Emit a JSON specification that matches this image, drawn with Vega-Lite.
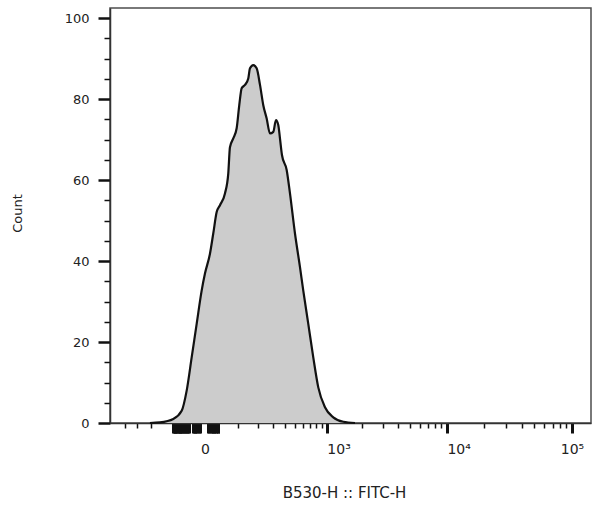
{
  "$schema": "https://vega.github.io/schema/vega-lite/v6.json",
  "width": 481,
  "height": 415,
  "autosize": {"type": "none"},
  "padding": {"left": 110, "top": 8, "right": 1, "bottom": 83},
  "background": "white",
  "config": {
    "view": {"stroke": "#4d4d4d", "strokeWidth": 1.5},
    "font": "DejaVu Sans",
    "axis": {
      "grid": false,
      "domainColor": "#333333",
      "domainWidth": 1.5,
      "tickColor": "#111111",
      "labelColor": "#222222",
      "titleColor": "#222222",
      "labelFont": "DejaVu Sans",
      "titleFont": "DejaVu Sans",
      "labelFontWeight": "normal",
      "titleFontWeight": "normal"
    }
  },
  "data": {
    "values": [
      {"fitc": -209, "count": 0},
      {"fitc": -154, "count": 0.15},
      {"fitc": -94.5, "count": 1.0},
      {"fitc": -63.9, "count": 3.0},
      {"fitc": -47.8, "count": 8.0},
      {"fitc": -33.1, "count": 16.2},
      {"fitc": -19.7, "count": 24.5},
      {"fitc": -7.5, "count": 32.7},
      {"fitc": 0, "count": 36.9},
      {"fitc": 11.5, "count": 41.8},
      {"fitc": 19.7, "count": 46.8},
      {"fitc": 28.7, "count": 52.1},
      {"fitc": 38.0, "count": 53.8},
      {"fitc": 53.1, "count": 56.7},
      {"fitc": 63.9, "count": 61.6},
      {"fitc": 69.7, "count": 68.1},
      {"fitc": 81.6, "count": 70.3},
      {"fitc": 94.5, "count": 72.8},
      {"fitc": 105.0, "count": 78.5},
      {"fitc": 115.1, "count": 82.7},
      {"fitc": 129.8, "count": 83.5},
      {"fitc": 145.4, "count": 85.1},
      {"fitc": 153.8, "count": 87.6},
      {"fitc": 170.8, "count": 88.4},
      {"fitc": 189.5, "count": 87.6},
      {"fitc": 209, "count": 83.5},
      {"fitc": 229.4, "count": 78.5},
      {"fitc": 251.8, "count": 75.2},
      {"fitc": 275.0, "count": 71.5},
      {"fitc": 299.6, "count": 71.9},
      {"fitc": 320.9, "count": 74.8},
      {"fitc": 339.9, "count": 73.6},
      {"fitc": 354.4, "count": 70.3},
      {"fitc": 372.0, "count": 66.2},
      {"fitc": 416.4, "count": 62.5},
      {"fitc": 449.9, "count": 56.7},
      {"fitc": 504.6, "count": 46.8},
      {"fitc": 564.6, "count": 38.5},
      {"fitc": 607.2, "count": 32.7},
      {"fitc": 677.0, "count": 24.5},
      {"fitc": 753.5, "count": 16.2},
      {"fitc": 837.3, "count": 8.8},
      {"fitc": 962.4, "count": 3.9},
      {"fitc": 1140, "count": 1.4},
      {"fitc": 1394, "count": 0.3},
      {"fitc": 1756, "count": 0}
    ]
  },
  "encoding": {
    "x": {
      "field": "fitc",
      "type": "quantitative",
      "title": "B530-H :: FITC-H",
      "scale": {"type": "symlog", "constant": 120, "domain": [-564, 141700], "nice": false, "zero": false},
      "axis": {
        "values": [-400, -300, -200, -95, -92, -89, -86, -83, -80, -77, -74, -71, -68, -65, -62, -59, -56, -53, -50, -47, -44, -41, -30, -27, -24, -21, -18, -15, -12, 0, 7, 10, 13, 16, 19, 22, 25, 28, 31, 33, 100, 200, 300, 400, 500, 600, 700, 800, 900, 1000, 2000, 3000, 4000, 5000, 6000, 7000, 8000, 9000, 10000, 20000, 30000, 40000, 50000, 60000, 70000, 80000, 90000, 100000],
        "labelExpr": "datum.value==0?'0':datum.value==1000?'10³':datum.value==10000?'10⁴':datum.value==100000?'10⁵':''",
        "labelOverlap": false,
        "labelFlush": false,
        "labelBound": false,
        "labelFontSize": 14,
        "labelPadding": 9,
        "labelAlign": {"condition": {"test": "datum.value==0||datum.value==100000", "value": "center"}, "value": "left"},
        "tickSize": {"condition": {"test": "datum.value==1000||datum.value==10000||datum.value==100000||abs(datum.value)<100", "value": 10}, "value": 5},
        "tickWidth": {"condition": {"test": "datum.value==1000||datum.value==10000||datum.value==100000||abs(datum.value)<100", "value": 3}, "value": 1.5},
        "tickOpacity": {"condition": {"test": "datum.value==0", "value": 0}, "value": 1},
        "titleFontSize": 15,
        "titleX": 234,
        "titleY": 69,
        "titleBaseline": "middle",
        "titleAnchor": null
      }
    },
    "y": {
      "field": "count",
      "type": "quantitative",
      "title": "Count",
      "scale": {"domain": [0, 102.5], "nice": false},
      "axis": {
        "values": [0, 5, 10, 15, 20, 25, 30, 35, 40, 45, 50, 55, 60, 65, 70, 75, 80, 85, 90, 95, 100],
        "labelExpr": "datum.value % 20 == 0 ? datum.label : ''",
        "labelOverlap": false,
        "labelFlush": false,
        "labelBound": false,
        "labelFontSize": 13,
        "labelPadding": 9,
        "tickSize": 12,
        "tickDash": {"condition": {"test": "datum.value % 20 != 0", "value": [6, 20]}, "value": [20, 0]},
        "tickWidth": {"condition": {"test": "datum.value % 20 == 0", "value": 2.5}, "value": 1.5},
        "titleFontSize": 13,
        "titleAngle": -90,
        "titleX": -93,
        "titleY": 205,
        "titleAlign": "center",
        "titleBaseline": "middle"
      }
    }
  },
  "layer": [
    {"mark": {"type": "area", "color": "#cccccc", "interpolate": "monotone"}},
    {"mark": {"type": "line", "color": "#111111", "strokeWidth": 2.2, "interpolate": "monotone"}}
  ]
}
